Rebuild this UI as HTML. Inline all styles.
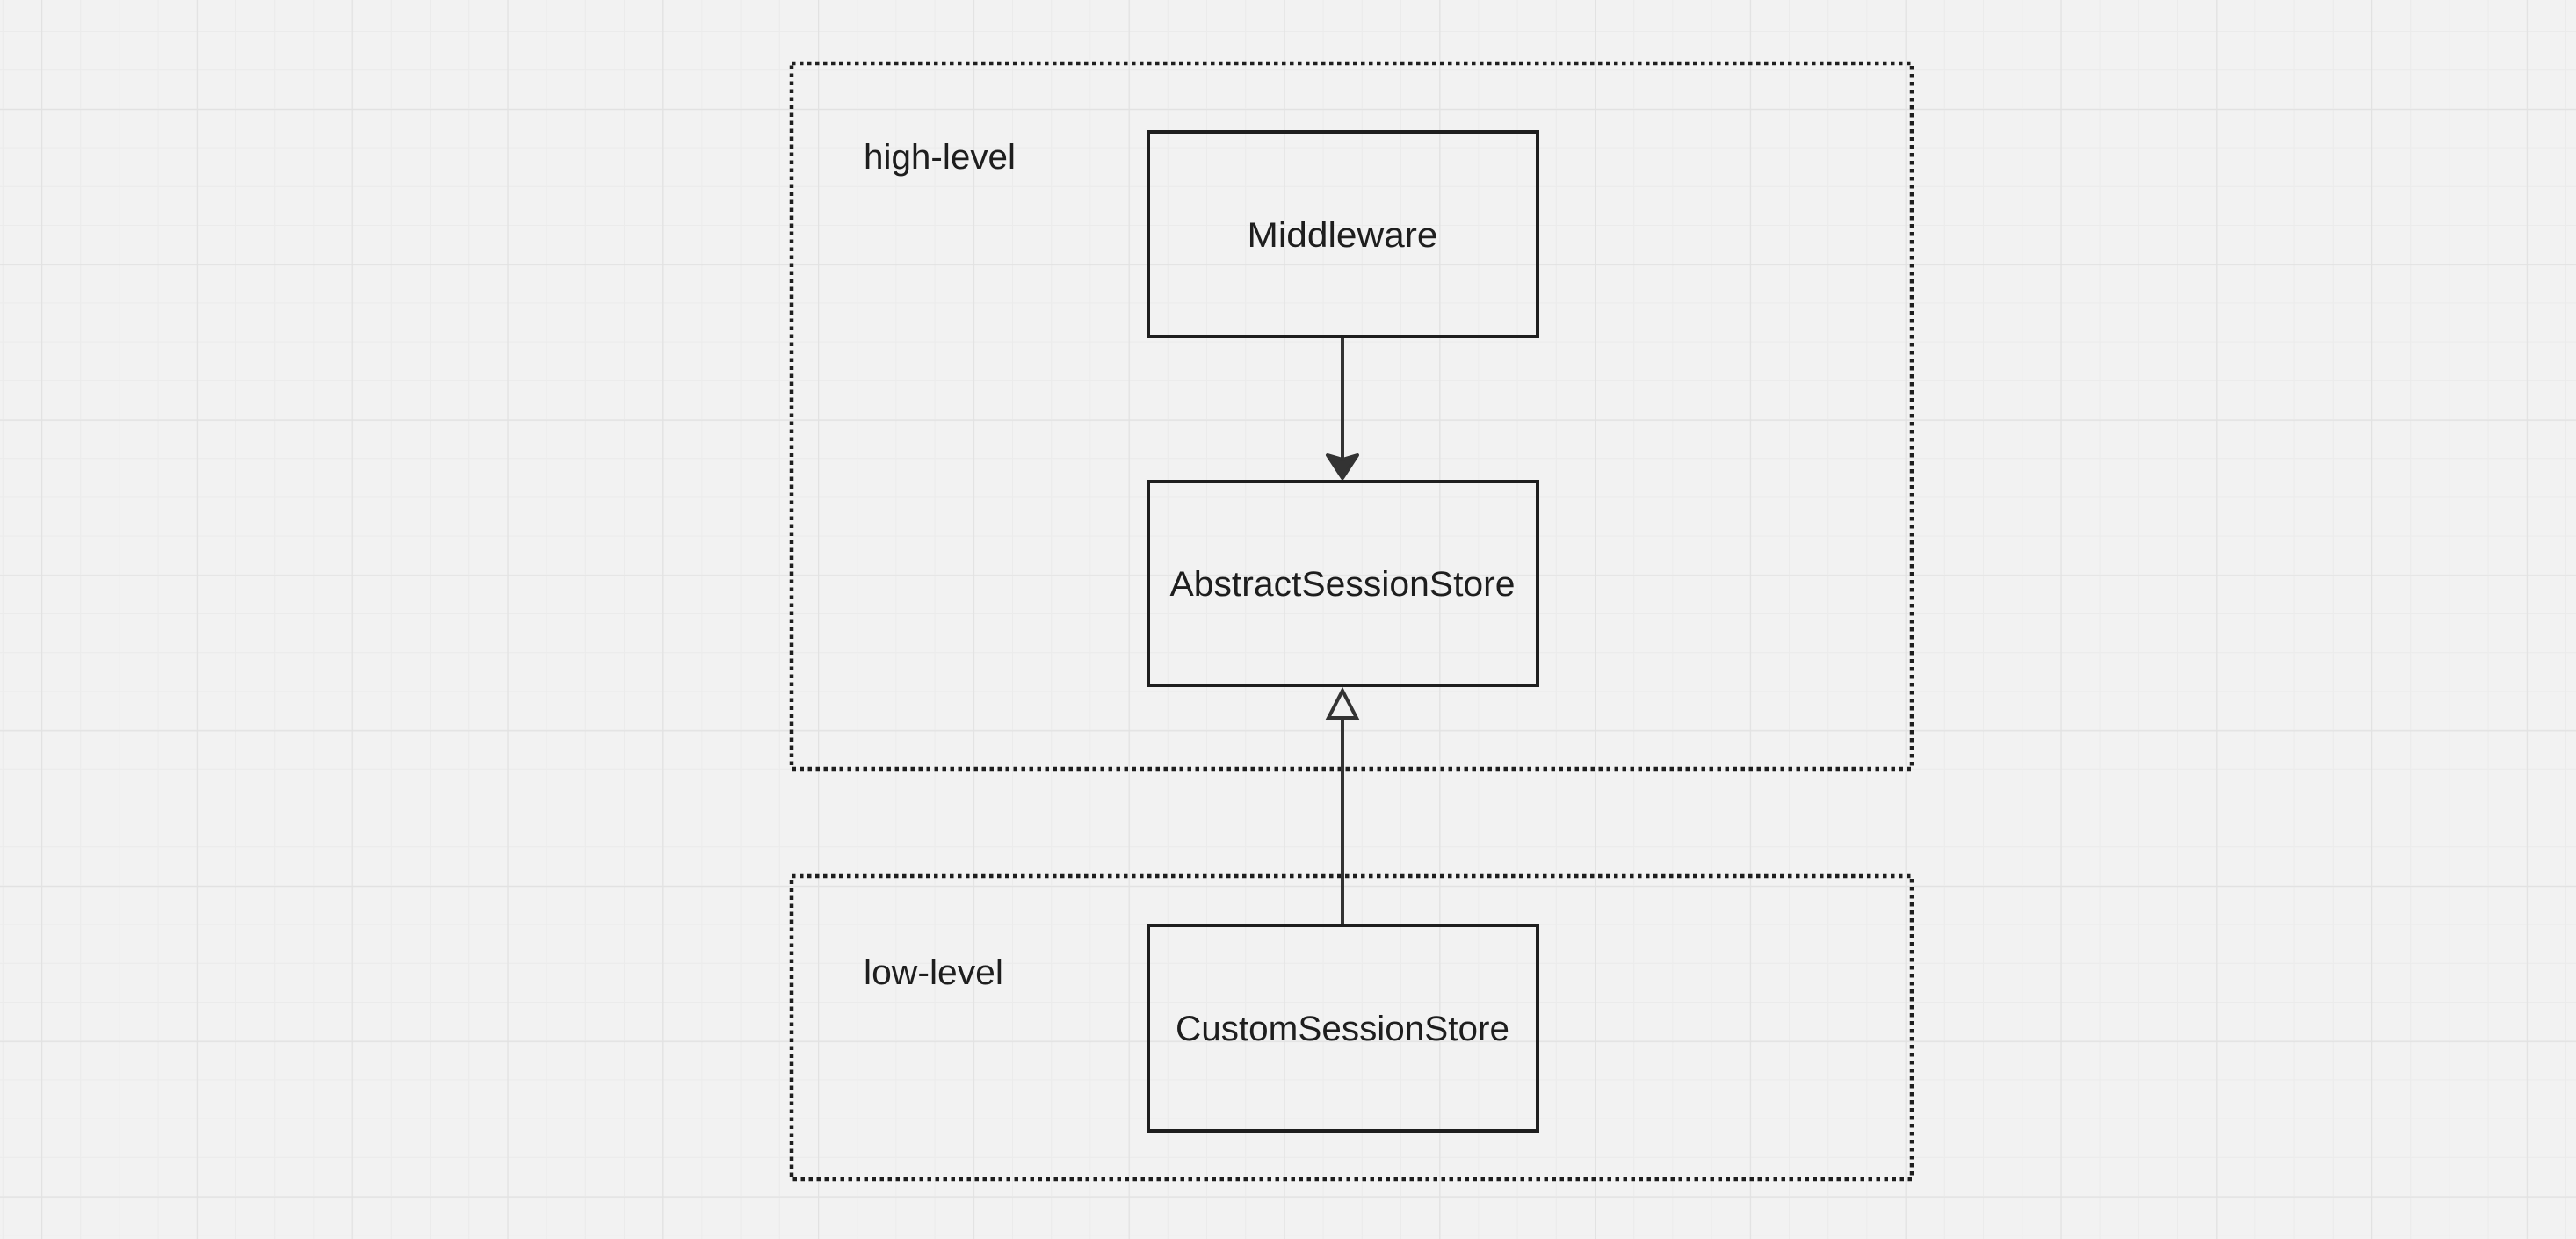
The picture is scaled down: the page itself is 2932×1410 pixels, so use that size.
<!DOCTYPE html>
<html><head><meta charset="utf-8"><style>
html,body{margin:0;padding:0;background:#f2f2f2;}
svg{display:block;}
text{font-family:"Liberation Sans",sans-serif;fill:#1e1e1e;}
</style></head><body>
<svg width="2932" height="1410" viewBox="0 0 2932 1410" xmlns="http://www.w3.org/2000/svg">
<defs>
<pattern id="minor" x="2.8" y="35" width="44.2" height="44.2" patternUnits="userSpaceOnUse">
<path d="M0 0V44.2M0 0H44.2" stroke="#ebebeb" stroke-width="2" fill="none"/>
</pattern>
<pattern id="major" x="47" y="124" width="176.8" height="176.8" patternUnits="userSpaceOnUse">
<path d="M0 0V176.8M0 0H176.8" stroke="#e2e2e2" stroke-width="2.5" fill="none"/>
</pattern>
</defs>
<rect width="2932" height="1410" fill="#f2f2f2"/>
<rect width="2932" height="1410" fill="url(#minor)"/>
<rect width="2932" height="1410" fill="url(#major)"/>

<g fill="none" stroke="#1e1e1e" stroke-width="4.5" stroke-dasharray="4.5 4.5">
<rect x="901" y="72" width="1275" height="803"/>
<rect x="901" y="997" width="1275" height="345"/>
</g>

<text x="983" y="192" font-size="40" textLength="173" lengthAdjust="spacingAndGlyphs">high-level</text>
<text x="983" y="1120" font-size="40" textLength="159" lengthAdjust="spacingAndGlyphs">low-level</text>

<g fill="none" stroke="#1e1e1e" stroke-width="4">
<rect x="1307" y="150" width="443" height="233"/>
<rect x="1307" y="548" width="443" height="232"/>
<rect x="1307" y="1053" width="443" height="234"/>
</g>

<text x="1528" y="281" font-size="40" text-anchor="middle" textLength="217" lengthAdjust="spacingAndGlyphs">Middleware</text>
<text x="1528" y="678" font-size="40" text-anchor="middle" textLength="393" lengthAdjust="spacingAndGlyphs">AbstractSessionStore</text>
<text x="1528" y="1184" font-size="40" text-anchor="middle" textLength="380" lengthAdjust="spacingAndGlyphs">CustomSessionStore</text>

<g stroke="#333" stroke-width="4" fill="none">
<line x1="1528" y1="385" x2="1528" y2="530"/>
<line x1="1528" y1="818" x2="1528" y2="1051"/>
</g>
<path d="M1511 518 L1528 523 L1545 518 L1528 544 Z" fill="#333" stroke="#333" stroke-width="4" stroke-linejoin="round"/>
<path d="M1528 786 L1544 817 L1512 817 Z" fill="#f2f2f2" stroke="#333" stroke-width="4" stroke-linejoin="miter"/>
</svg>
</body></html>
